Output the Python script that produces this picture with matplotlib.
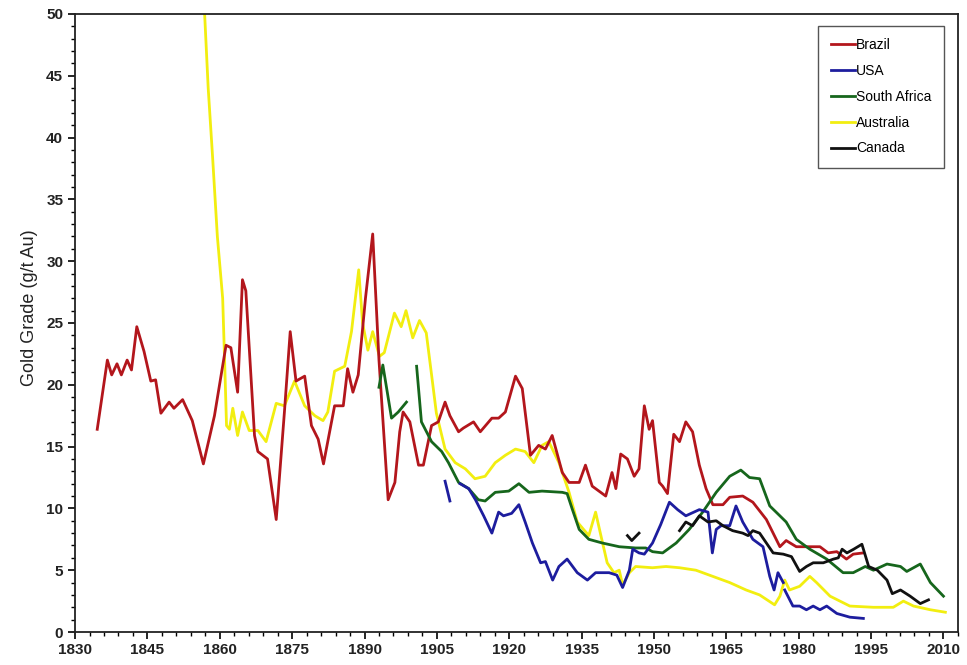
import matplotlib
matplotlib.use("Agg")
import matplotlib.pyplot as plt
from matplotlib.ticker import MultipleLocator

# ---------------- data ----------------
brazil_years = [1834.6, 1836.7, 1837.6, 1838.7, 1839.6, 1840.8, 1841.7, 1842.8, 1844.3, 1845.7,
                1846.7, 1847.8, 1849.5, 1850.5, 1852.3, 1854.3, 1856.6, 1858.9, 1861.3, 1862.3,
                1863.7, 1864.7, 1865.4, 1867.2, 1867.9, 1869.9, 1871.7, 1873.4, 1874.6, 1875.8,
                1877.6, 1879.0, 1880.4, 1881.5, 1883.8, 1885.6, 1886.5, 1887.6, 1888.7, 1890.2,
                1891.7, 1893.0, 1894.9, 1896.3, 1897.3, 1898.0, 1899.4, 1901.2, 1902.2, 1903.9,
                1905.3, 1906.7, 1907.7, 1909.5, 1910.5, 1912.6, 1914.0, 1916.4, 1917.8, 1919.2,
                1921.3, 1922.7, 1924.4, 1926.1, 1927.5, 1928.9, 1931.0, 1932.4, 1934.5, 1935.8,
                1937.2, 1940.0, 1941.3, 1942.1, 1943.1, 1944.5, 1945.9, 1946.9, 1948.0, 1949.0,
                1949.7, 1951.1, 1951.8, 1952.8, 1954.1, 1955.3, 1956.6, 1958.0, 1959.4, 1960.8,
                1962.2, 1964.3, 1965.7, 1968.4, 1970.5, 1973.3, 1976.1, 1977.4, 1979.5, 1981.6,
                1984.4, 1986.1, 1987.9, 1989.9, 1991.3, 1993.4]
brazil_grade = [16.4, 22.0, 20.8, 21.7, 20.8, 22.0, 21.2, 24.7, 22.7, 20.3,
                20.4, 17.7, 18.6, 18.1, 18.8, 17.1, 13.6, 17.5, 23.2, 23.0,
                19.4, 28.5, 27.6, 15.9, 14.6, 14.0, 9.1, 17.8, 24.3, 20.3,
                20.7, 16.7, 15.6, 13.6, 18.3, 18.3, 21.3, 19.4, 20.8, 27.0,
                32.2, 22.0, 10.7, 12.1, 16.2, 17.8, 17.0, 13.5, 13.5, 16.7,
                17.0, 18.6, 17.5, 16.2, 16.5, 17.0, 16.2, 17.3, 17.3, 17.8,
                20.7, 19.7, 14.3, 15.1, 14.8, 15.9, 12.9, 12.1, 12.1, 13.5,
                11.8, 11.0, 12.9, 11.6, 14.4, 14.0, 12.6, 13.2, 18.3, 16.4,
                17.1, 12.1, 11.8, 11.2, 16.0, 15.4, 17.0, 16.2, 13.5, 11.6,
                10.3, 10.3, 10.9, 11.0, 10.5, 9.1, 6.9, 7.4, 6.9, 6.9,
                6.9, 6.4, 6.5, 5.9, 6.3, 6.4]

usa_years_a = [1906.7, 1907.7]
usa_grade_a = [12.2, 10.6]
usa_years = [1909.8, 1911.6, 1913.0, 1914.7, 1916.4, 1917.8, 1918.8, 1920.5, 1922.0, 1923.3,
             1924.8, 1926.5, 1927.5, 1929.0, 1930.3, 1932.0, 1934.1, 1936.2, 1937.9, 1940.7,
             1942.3, 1943.5, 1944.9, 1945.6, 1946.9, 1948.0, 1949.7, 1951.4, 1953.2, 1954.9,
             1956.6, 1959.4, 1961.2, 1962.1, 1962.9, 1963.9, 1965.7, 1967.0, 1968.4, 1970.5,
             1972.6, 1974.0, 1974.9, 1975.7, 1976.8]
usa_grade = [12.0, 11.6, 10.7, 9.4, 8.0, 9.7, 9.4, 9.6, 10.3, 8.9,
             7.2, 5.6, 5.7, 4.2, 5.3, 5.9, 4.8, 4.2, 4.8, 4.8,
             4.6, 3.6, 5.0, 6.7, 6.4, 6.3, 7.2, 8.7, 10.5, 9.9,
             9.4, 9.9, 9.7, 6.4, 8.3, 8.6, 8.6, 10.2, 8.9, 7.5,
             6.9, 4.5, 3.4, 4.8, 4.0]
usa_years_b = [1977.1, 1978.8, 1980.2, 1981.6, 1983.0, 1984.4, 1985.8, 1987.9, 1990.6, 1993.4]
usa_grade_b = [3.4, 2.1, 2.1, 1.8, 2.1, 1.8, 2.1, 1.5, 1.2, 1.1]

safrica_years_a = [1893.0, 1893.8, 1895.6, 1897.0, 1898.7]
safrica_grade_a = [19.8, 21.6, 17.3, 17.8, 18.6]
safrica_years = [1900.8, 1901.8, 1903.9, 1906.0, 1907.4, 1909.5, 1911.6, 1913.6, 1915.0, 1917.1,
                 1919.9, 1922.0, 1924.1, 1926.8, 1931.0, 1932.0, 1933.1, 1934.5, 1936.5, 1939.3,
                 1942.8, 1946.2, 1948.3, 1949.7, 1951.8, 1954.6, 1957.3, 1960.1, 1962.9, 1965.7,
                 1968.0, 1969.8, 1971.9, 1974.0, 1976.1, 1977.4, 1979.5, 1982.3, 1985.8, 1989.2,
                 1991.3, 1993.8, 1995.5, 1998.3, 2001.1, 2002.4, 2005.2, 2007.3, 2010.0]
safrica_grade = [21.5, 17.0, 15.4, 14.6, 13.7, 12.1, 11.6, 10.7, 10.6, 11.3,
                 11.4, 12.0, 11.3, 11.4, 11.3, 11.2, 9.9, 8.3, 7.5, 7.2,
                 6.9, 6.8, 6.8, 6.5, 6.4, 7.2, 8.3, 9.7, 11.3, 12.6,
                 13.1, 12.5, 12.4, 10.2, 9.4, 8.9, 7.5, 6.7, 5.9, 4.8,
                 4.8, 5.3, 5.0, 5.5, 5.3, 4.9, 5.5, 4.0, 2.9]

australia_years = [1856.8, 1857.6, 1858.5, 1859.5, 1860.6, 1861.0, 1861.4, 1862.0, 1862.7, 1863.7,
                   1864.7, 1866.1, 1867.9, 1869.6, 1871.7, 1873.4, 1875.5, 1877.6, 1879.7, 1881.4,
                   1882.4, 1883.8, 1885.9, 1887.3, 1888.8, 1889.6, 1890.7, 1891.7, 1893.1, 1894.1,
                   1896.2, 1897.6, 1898.6, 1900.0, 1901.4, 1902.8, 1904.0, 1904.9, 1906.7, 1908.8,
                   1910.9, 1912.9, 1915.0, 1917.1, 1919.2, 1921.3, 1923.3, 1925.1, 1926.8, 1928.2,
                   1930.3, 1932.4, 1934.1, 1936.5, 1937.9, 1939.0, 1940.3, 1941.7, 1942.8, 1943.5,
                   1944.9, 1946.2, 1949.7, 1952.5, 1955.3, 1958.7, 1962.2, 1965.7, 1969.1, 1971.9,
                   1975.0, 1976.1, 1977.1, 1978.1, 1980.2, 1982.3, 1983.7, 1986.5, 1990.6, 1995.5,
                   1999.6, 2001.7, 2003.8, 2007.3, 2010.4]
australia_grade = [50.5, 44.0, 38.5, 32.0, 27.0, 22.0, 16.7, 16.4, 18.1, 15.9,
                   17.8, 16.3, 16.3, 15.4, 18.5, 18.3, 20.3, 18.3, 17.5, 17.1,
                   17.8, 21.1, 21.5, 24.3, 29.3, 25.0, 22.8, 24.3, 22.3, 22.6,
                   25.8, 24.7, 26.0, 23.8, 25.2, 24.2, 20.5, 17.7, 14.8, 13.7,
                   13.2, 12.4, 12.6, 13.7, 14.3, 14.8, 14.6, 13.7, 15.1, 15.4,
                   13.7, 11.3, 8.9, 7.8, 9.7, 7.8, 5.6, 4.8, 5.0, 3.8,
                   4.8, 5.3, 5.2, 5.3, 5.2, 5.0, 4.5, 4.0, 3.4, 3.0,
                   2.2, 2.9, 4.2, 3.4, 3.7, 4.5, 4.0, 2.9, 2.1, 2.0,
                   2.0, 2.5, 2.1, 1.8, 1.6]

canada_years_a = [1944.5, 1945.4, 1946.9]
canada_grade_a = [7.8, 7.4, 8.0]
canada_years = [1955.3, 1956.6, 1958.0, 1959.4, 1961.2, 1962.9, 1964.3, 1966.3, 1968.4, 1969.5,
                1970.5, 1971.9, 1973.3, 1974.7, 1976.8, 1978.5, 1980.2, 1981.6, 1983.0, 1985.1,
                1987.2, 1988.2, 1989.0, 1990.0, 1991.4, 1993.1, 1994.5, 1996.3, 1998.3, 1999.4,
                2001.1, 2003.1, 2005.2, 2006.9]
canada_grade = [8.2, 8.9, 8.6, 9.4, 8.9, 9.0, 8.6, 8.2, 8.0, 7.8,
                8.2, 8.0, 7.2, 6.4, 6.3, 6.1, 4.9, 5.3, 5.6, 5.6,
                5.9, 6.0, 6.7, 6.4, 6.7, 7.1, 5.3, 5.0, 4.2, 3.1,
                3.4, 2.9, 2.3, 2.6]

x_ticks = [1830, 1845, 1860, 1875, 1890, 1905, 1920, 1935, 1950, 1965, 1980, 1995, 2010]
y_ticks = [0, 5, 10, 15, 20, 25, 30, 35, 40, 45, 50]

# ---------------- styling ----------------
plt.rcParams['font.family'] = ['Liberation Sans', 'DejaVu Sans']
c_brazil = '#b3161c'
c_usa = '#1d1d9e'
c_sa = '#16661c'
c_aus = '#f2ee10'
c_can = '#111111'
lw = 2.0

fig = plt.figure(figsize=(9.67, 6.65), dpi=100)
ax = fig.add_axes([0.0776, 0.0496, 0.913, 0.9294])

ax.plot(australia_years, australia_grade, color=c_aus, lw=lw, label='Australia', zorder=2)
ax.plot(brazil_years, brazil_grade, color=c_brazil, lw=lw, label='Brazil', zorder=3)
ax.plot(safrica_years_a, safrica_grade_a, color=c_sa, lw=lw, zorder=3)
ax.plot(safrica_years, safrica_grade, color=c_sa, lw=lw, label='South Africa', zorder=3)
ax.plot(usa_years_a, usa_grade_a, color=c_usa, lw=lw, zorder=3)
ax.plot(usa_years, usa_grade, color=c_usa, lw=lw, label='USA', zorder=3)
ax.plot(usa_years_b, usa_grade_b, color=c_usa, lw=lw, zorder=3)
ax.plot(canada_years_a, canada_grade_a, color=c_can, lw=lw, zorder=4)
ax.plot(canada_years, canada_grade, color=c_can, lw=lw, label='Canada', zorder=4)

ax.set_xlim(1830, 2013)
ax.set_ylim(0, 50)
ax.set_xticks(x_ticks)
ax.set_yticks(y_ticks)
ax.xaxis.set_minor_locator(MultipleLocator(3))
ax.yaxis.set_minor_locator(MultipleLocator(1))
ax.tick_params(which='major', direction='out', length=5, width=1.2, labelsize=11)
ax.tick_params(which='minor', direction='out', length=3, width=1.0)
for lab in ax.get_xticklabels() + ax.get_yticklabels():
    lab.set_fontweight('bold')
    lab.set_color('#222222')
ax.tick_params(axis='x', pad=3)
for s in ax.spines.values():
    s.set_linewidth(1.3)
    s.set_color('#222222')

ax.set_ylabel('Gold Grade (g/t Au)', fontsize=13, color='#222222')
ax.yaxis.set_label_coords(-0.042, 0.525)

handles, labels = ax.get_legend_handles_labels()
order = ['Brazil', 'USA', 'South Africa', 'Australia', 'Canada']
hmap = dict(zip(labels, handles))
leg = ax.legend([hmap[k] for k in order], order, loc='upper right',
                bbox_to_anchor=(0.984, 0.981), fontsize=10, frameon=True,
                fancybox=False, edgecolor='#555555', framealpha=1,
                handlelength=1.7, handletextpad=0.1, labelspacing=0.85,
                borderpad=0.9, borderaxespad=0)
leg.get_frame().set_linewidth(1.0)

fig.savefig('out.png', dpi=100)
